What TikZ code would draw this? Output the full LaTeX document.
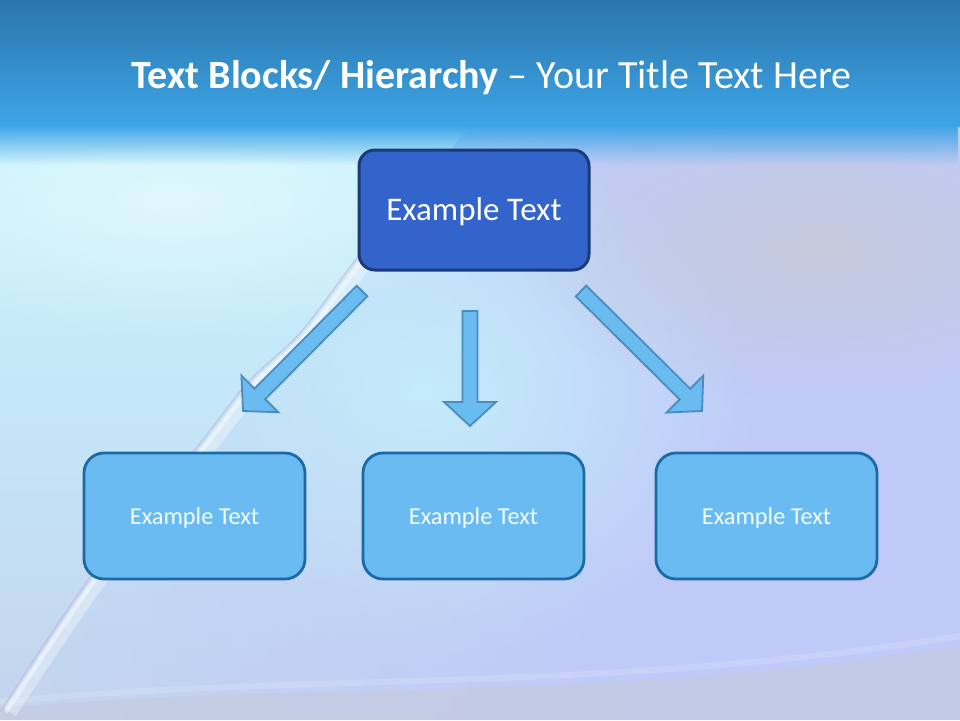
\documentclass[tikz,border=0pt]{standalone}
\usepackage{fontspec}
\setmainfont{Carlito}
\usetikzlibrary{calc,fadings}
\definecolor{bandtop}{HTML}{2A76AA}
\definecolor{bandbot}{HTML}{3EA4E8}
\definecolor{lav}{HTML}{C0CAF8}
\definecolor{cyanbg}{HTML}{C8F5FB}
\definecolor{midbg}{HTML}{C4E6F6}
\definecolor{lowbg}{HTML}{C4D4EE}
\definecolor{glow}{HTML}{C4EEFC}
\definecolor{greybg}{HTML}{C6CADC}
\definecolor{pinkline}{HTML}{C6B2DA}
\definecolor{topfill}{HTML}{3264CC}
\definecolor{topdraw}{HTML}{1B3A78}
\definecolor{boxfill}{HTML}{69BBF1}
\definecolor{boxdraw}{HTML}{1B6AA6}
\definecolor{arrfill}{HTML}{6ABCF0}
\definecolor{arrdraw}{HTML}{4A8CC0}
\tikzfading[name=fuzzy, inner color=transparent!0, outer color=transparent!100]
\tikzfading[name=fadedown, top color=transparent!0, bottom color=transparent!100]
\tikzfading[name=faderight, left color=transparent!0, right color=transparent!100]
\tikzset{
  topbox/.style={draw=topdraw, fill=topfill, line width=3pt, rounded corners=16pt,
    minimum width=230pt, minimum height=120pt, text=white, font=\fontsize{33}{40}\selectfont,
    text height=27pt, text depth=6pt},
  lowbox/.style={draw=boxdraw, fill=boxfill, line width=2.8pt, rounded corners=20pt,
    minimum width=221pt, minimum height=126pt, text=white!96!cyan, font=\fontsize{24.3}{29}\selectfont,
    text height=20pt, text depth=4pt},
  blockarr/.style={draw=arrdraw, fill=arrfill, line width=1.8pt, line join=miter},
  titletext/.style={text=white, font=\fontsize{40}{48}\selectfont, anchor=base, inner sep=0pt}
}
\newcommand\blockarrow[2]{%
  \coordinate (hb) at ($(#2)!24pt!(#1)$);
  \draw[blockarr] ($(#1)!7.5pt!90:(#2)$) -- ($(hb)!7.5pt!-90:(#1)$) -- ($(hb)!26pt!-90:(#1)$)
    -- (#2) -- ($(hb)!26pt!90:(#1)$) -- ($(hb)!7.5pt!90:(#1)$) -- ($(#1)!7.5pt!-90:(#2)$) -- cycle;}
\begin{document}
\begin{tikzpicture}[x=1pt, y=-1pt]
\useasboundingbox (0,0) rectangle (960,720);
% background
\fill[lav] (0,0) rectangle (960,720);
\fill[glow, path fading=fuzzy] (420,390) ellipse (340pt and 270pt);
\fill[greybg, path fading=fuzzy] (820,250) ellipse (320pt and 150pt);
\shade[top color=cyanbg, bottom color=lowbg, middle color=midbg, path fading=faderight]
  (0,125) rectangle (620,720);
\shade[top color=cyanbg, bottom color=lowbg, middle color=midbg]
  (0,125) -- (470,125) -- plot[smooth] coordinates {(420,190) (380,235) (357,258) (300,333) (247,383) (197,447) (93,573) (0,712)} -- cycle;
\fill[white, path fading=fuzzy, opacity=0.45] (170,200) ellipse (330pt and 140pt);
\fill[greybg, opacity=0.6] (0,720) -- (0,708) .. controls (300,680) and (600,705) .. (960,645) -- (960,720) -- cycle;
\draw[white, opacity=0.15, line width=6pt] (0,702) .. controls (300,672) and (600,694) .. (960,636);
% streak
\draw[white, opacity=0.35, line width=14pt] plot[smooth] coordinates {(390,236) (366,262) (309,337) (256,388) (206,451) (102,577) (10,712)};
\draw[white, opacity=0.45, line width=4pt] plot[smooth] coordinates {(385,236) (362,261) (305,336) (252,386) (202,450) (98,576) (6,712)};
\draw[pinkline, opacity=0.6, line width=1.3pt] plot[smooth] coordinates {(380,235) (357,258) (300,333) (247,383) (197,447) (93,573) (0,712)};
% title band
\shade[top color=bandtop, bottom color=bandbot] (0,0) rectangle (960,126);
\fill[bandbot, path fading=fadedown] (0,125) rectangle (960,165);
\node[titletext] (title) at (491.5,88) {\textbf{Text Blocks/ Hierarchy} – Your Title Text Here};
% boxes
\node[topbox] (T) at (474,210) {Example Text};
\node[lowbox] (B1) at (194.5,516) {Example Text};
\node[lowbox] (B2) at (473.5,516) {Example Text};
\node[lowbox] (B3) at (766.5,516) {Example Text};
% arrows
\coordinate (a1s) at (362,291); \coordinate (a1e) at (243,411);
\coordinate (a2s) at (470,311); \coordinate (a2e) at (470,426);
\coordinate (a3s) at (581,291); \coordinate (a3e) at (702,411);
\blockarrow{a1s}{a1e}
\blockarrow{a2s}{a2e}
\blockarrow{a3s}{a3e}
\end{tikzpicture}
\end{document}
